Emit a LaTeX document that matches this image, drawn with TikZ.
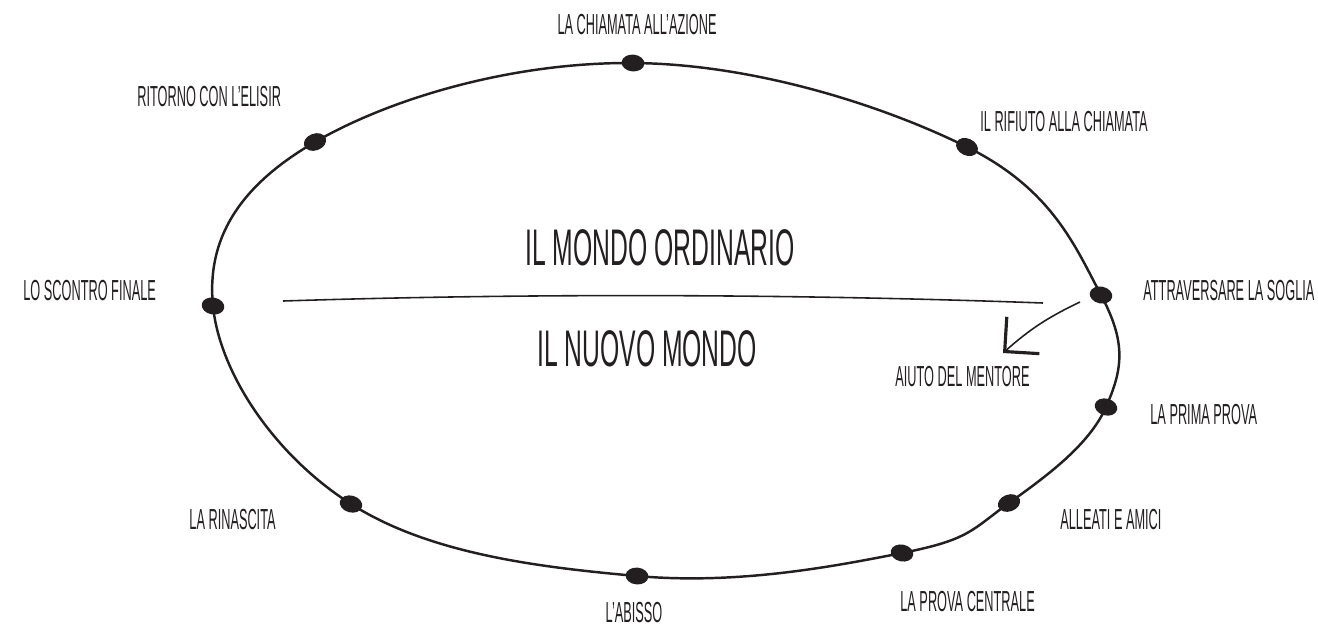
\documentclass[tikz,border=0pt]{standalone}
\usepackage{fontspec}
\setmainfont{Liberation Sans}[FakeStretch=0.44]
\newfontfamily\worldfont{Liberation Sans}[FakeStretch=0.48]
\usetikzlibrary{positioning,arrows.meta,shapes.geometric}
\definecolor{ink}{HTML}{231F20}

\begin{document}
\begin{tikzpicture}[x=0.02cm,y=-0.02cm,
  stagedot/.style={ellipse,fill=ink,inner sep=0pt,minimum width=13pt,minimum height=9.6pt},
  stagelbl/.style={text=ink,inner sep=0pt,font=\fontsize{16.5}{17}\selectfont},
  worldlbl/.style={text=ink,inner sep=0pt,font=\worldfont\fontsize{29.3}{30}\selectfont}]
  \useasboundingbox (0,0) rectangle (1318,627);
  % stages along the journey
  \foreach \n/\x/\y in {chiamata/633/63,rifiuto/967/147,soglia/1101/295,
      prima/1106/407,alleati/1009/503,centrale/902/553,abisso/637/576,
      rinascita/351/504,scontro/213/306,ritorno/315/142}
    \coordinate (p-\n) at (\x,\y);
  \draw[ink,line width=1.4pt] plot[smooth cycle,tension=0.66] coordinates {(p-chiamata) (p-rifiuto)
    (p-soglia) (p-prima) (p-alleati) (p-centrale) (p-abisso) (p-rinascita)
    (p-scontro) (p-ritorno)};
  \foreach \n/\r in {chiamata/-5,rifiuto/-25,soglia/-12,prima/-15,alleati/20,
      centrale/-12,abisso/-5,rinascita/-15,scontro/-10,ritorno/20}
    \node[stagedot,rotate=\r] (d-\n) at (p-\n) {};
  % labels
  \node[stagelbl] (l-chiamata) at (637,25) {LA CHIAMATA ALL’AZIONE};
  \node[stagelbl,anchor=west] (l-rifiuto) at (980,122) {IL RIFIUTO ALLA CHIAMATA};
  \node[stagelbl,anchor=west] (l-soglia) at (1143,291) {ATTRAVERSARE LA SOGLIA};
  \node[stagelbl,anchor=west] (l-prima) at (1150,415) {LA PRIMA PROVA};
  \node[stagelbl,anchor=west] (l-alleati) at (1060,520) {ALLEATI E AMICI};
  \node[stagelbl,anchor=west] (l-centrale) at (900,602) {LA PROVA CENTRALE};
  \node[stagelbl] (l-abisso) at (634,613) {L’ABISSO};
  \node[stagelbl,anchor=east] (l-rinascita) at (276,520) {LA RINASCITA};
  \node[stagelbl,anchor=west] (l-scontro) at (23,291) {LO SCONTRO FINALE};
  \node[stagelbl,anchor=west] (l-ritorno) at (137,97) {RITORNO CON L’ELISIR};
  \node[stagelbl,anchor=west] (l-mentore) at (895,377) {AIUTO DEL MENTORE};
  % the two worlds
  \node[worldlbl] (ordinario) at (660,248) {IL MONDO ORDINARIO};
  \node[worldlbl] (nuovo) at (647,349) {IL NUOVO MONDO};
  \coordinate (div-l) at (283,301);
  \coordinate (div-r) at (1043,303);
  \draw[ink,line width=0.9pt] (div-l) .. controls (530,293) and (800,294) .. (div-r);
  % mentor arrow
  \coordinate (m-start) at (1080,302);
  \coordinate (m-tip) at (1003,353);
  \draw[ink,line width=0.9pt,-{Straight Barb[length=14pt,width=28pt,line width=1.8pt]}]
    (m-start) to[bend right=8] (m-tip);
\end{tikzpicture}
\end{document}
